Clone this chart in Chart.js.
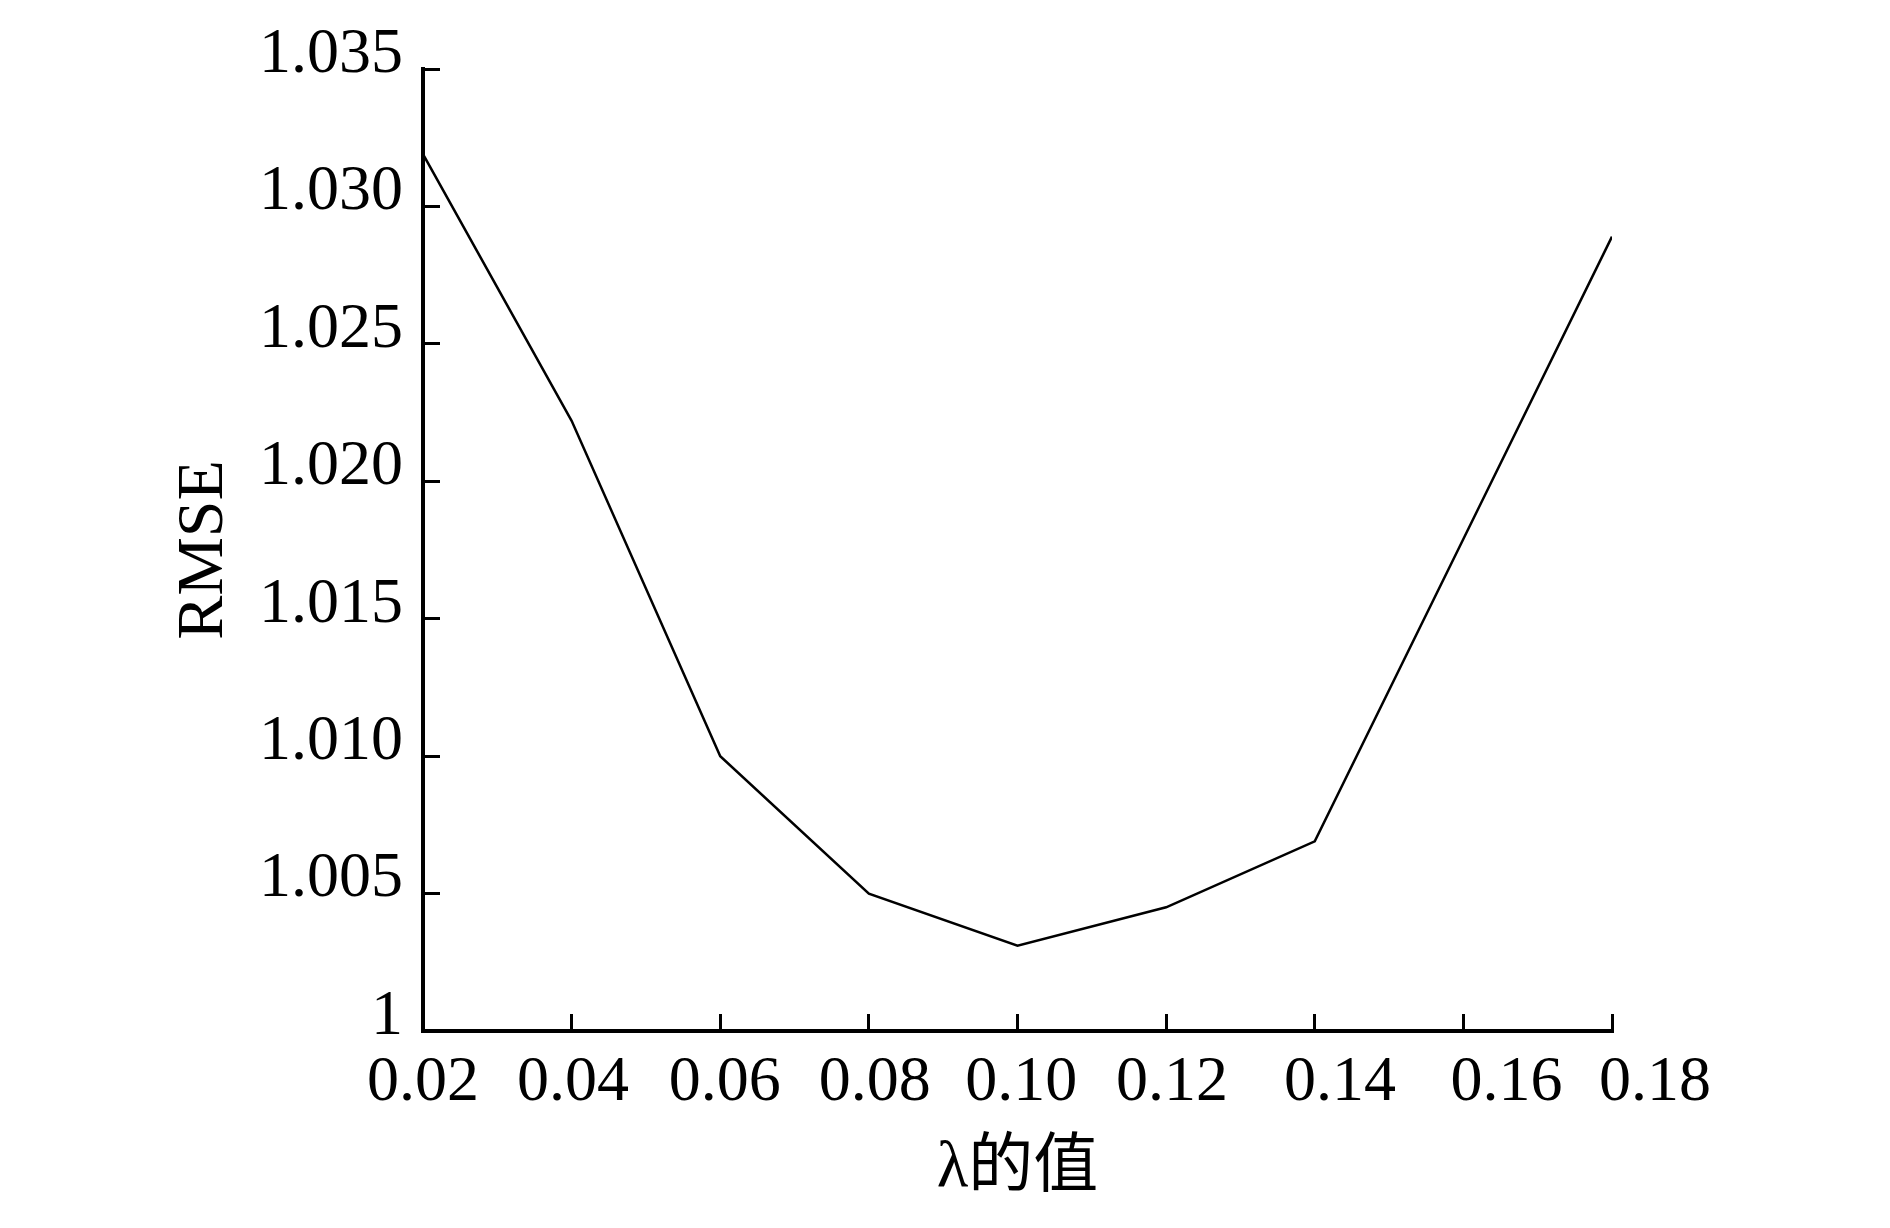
<!DOCTYPE html>
<html>
<head>
<meta charset="utf-8">
<title>RMSE vs λ</title>
<script src="https://cdn.jsdelivr.net/npm/chart.js@4.4.1/dist/chart.umd.min.js"></script>
<style>
    html, body { margin: 0; padding: 0; background: #fff; }
    #wrap { width: 1890px; height: 1228px; }
</style>
</head>
<body>
<div id="wrap"><canvas id="rmse-chart" width="1890" height="1228"></canvas></div>
<script>
// lambda values (x) and the RMSE (y)
const lambdas = [0.02, 0.04, 0.06, 0.08, 0.10, 0.12, 0.14, 0.16, 0.18];
const rmse = [1.0319, 1.0222, 1.0100, 1.0050, 1.0031, 1.0045, 1.0069, 1.0179, 1.0289];

// tick labels as printed
const xTickLabels = ['0.02', '0.04', '0.06', '0.08', '0.10', '0.12', '0.14', '0.16', '0.18'];
const yTickValues = [1, 1.005, 1.010, 1.015, 1.020, 1.025, 1.030, 1.035];
const yTickLabels = ['1', '1.005', '1.010', '1.015', '1.020', '1.025', '1.030', '1.035'];

// the printed x labels drift a little right of their tick marks in the original
const xLabelPos = [0.02, 0.0402, 0.0606, 0.0808, 0.1005, 0.1208, 0.1434, 0.1658, 0.1858];

const serif = "'Liberation Serif', 'Times New Roman', serif";
Chart.defaults.font.family = serif;
Chart.defaults.color = '#000';

const points = lambdas.map((l, i) => ({ x: l, y: rmse[i] }));

new Chart(document.getElementById('rmse-chart').getContext('2d'), {
    type: 'line',
    data: {
        datasets: [{
            label: 'RMSE',
            data: points,
            xAxisID: 'x',
            yAxisID: 'y',
            borderColor: '#000',
            borderWidth: 2.5,
            pointRadius: 0,
            tension: 0,
            fill: false
        }]
    },
    options: {
        responsive: false,
        devicePixelRatio: 1,
        animation: false,
        layout: { padding: { left: 0, top: 69, right: 278, bottom: 0 } },
        plugins: {
            legend: { display: false },
            tooltip: { enabled: false }
        },
        scales: {
            // axis line + inward tick marks
            x: {
                type: 'linear',
                position: 'bottom',
                weight: 0,
                min: 0.02,
                max: 0.18,
                afterBuildTicks: s => { s.ticks = lambdas.map(v => ({ value: v })); },
                ticks: { display: false },
                grid: { drawOnChartArea: false, color: '#000', lineWidth: 3, tickLength: -17 },
                border: { color: '#000', width: 4 },
                afterFit: s => { s.height = 0; }
            },
            // printed labels + axis title
            x2: {
                type: 'linear',
                axis: 'x',
                position: 'bottom',
                weight: 1,
                min: 0.02,
                max: 0.18,
                afterBuildTicks: s => { s.ticks = xLabelPos.map(v => ({ value: v })); },
                ticks: {
                    autoSkip: false,
                    maxRotation: 0,
                    padding: 14,
                    color: '#000',
                    font: { size: 64 },
                    callback: (v, i) => xTickLabels[i]
                },
                grid: { display: false, drawTicks: false },
                border: { display: false },
                title: {
                    display: true,
                    text: 'λ的值',
                    color: '#000',
                    font: { size: 65, family: "'Liberation Serif', 'Noto Sans CJK SC', serif" },
                    padding: { top: 0, bottom: 20 }
                },
                afterFit: s => { s.height = 197; }
            },
            y: {
                type: 'linear',
                position: 'left',
                min: 1,
                max: 1.035,
                afterBuildTicks: s => { s.ticks = yTickValues.map(v => ({ value: v })); },
                ticks: {
                    padding: 37,
                    labelOffset: -14,
                    color: '#000',
                    font: { size: 64 },
                    callback: (v, i) => yTickLabels[i]
                },
                grid: { drawOnChartArea: false, color: '#000', lineWidth: 3, tickLength: -17 },
                border: { color: '#000', width: 4 },
                title: {
                    display: true,
                    text: 'RMSE',
                    color: '#000',
                    font: { size: 66 },
                    padding: { top: 165, bottom: 0 }
                },
                afterFit: s => {
                    s.width = 423;
                    // keep the label padding from pushing the plot down
                    s.paddingTop = 0;
                    s.paddingBottom = 0;
                }
            }
        }
    }
});
</script>
</body>
</html>
